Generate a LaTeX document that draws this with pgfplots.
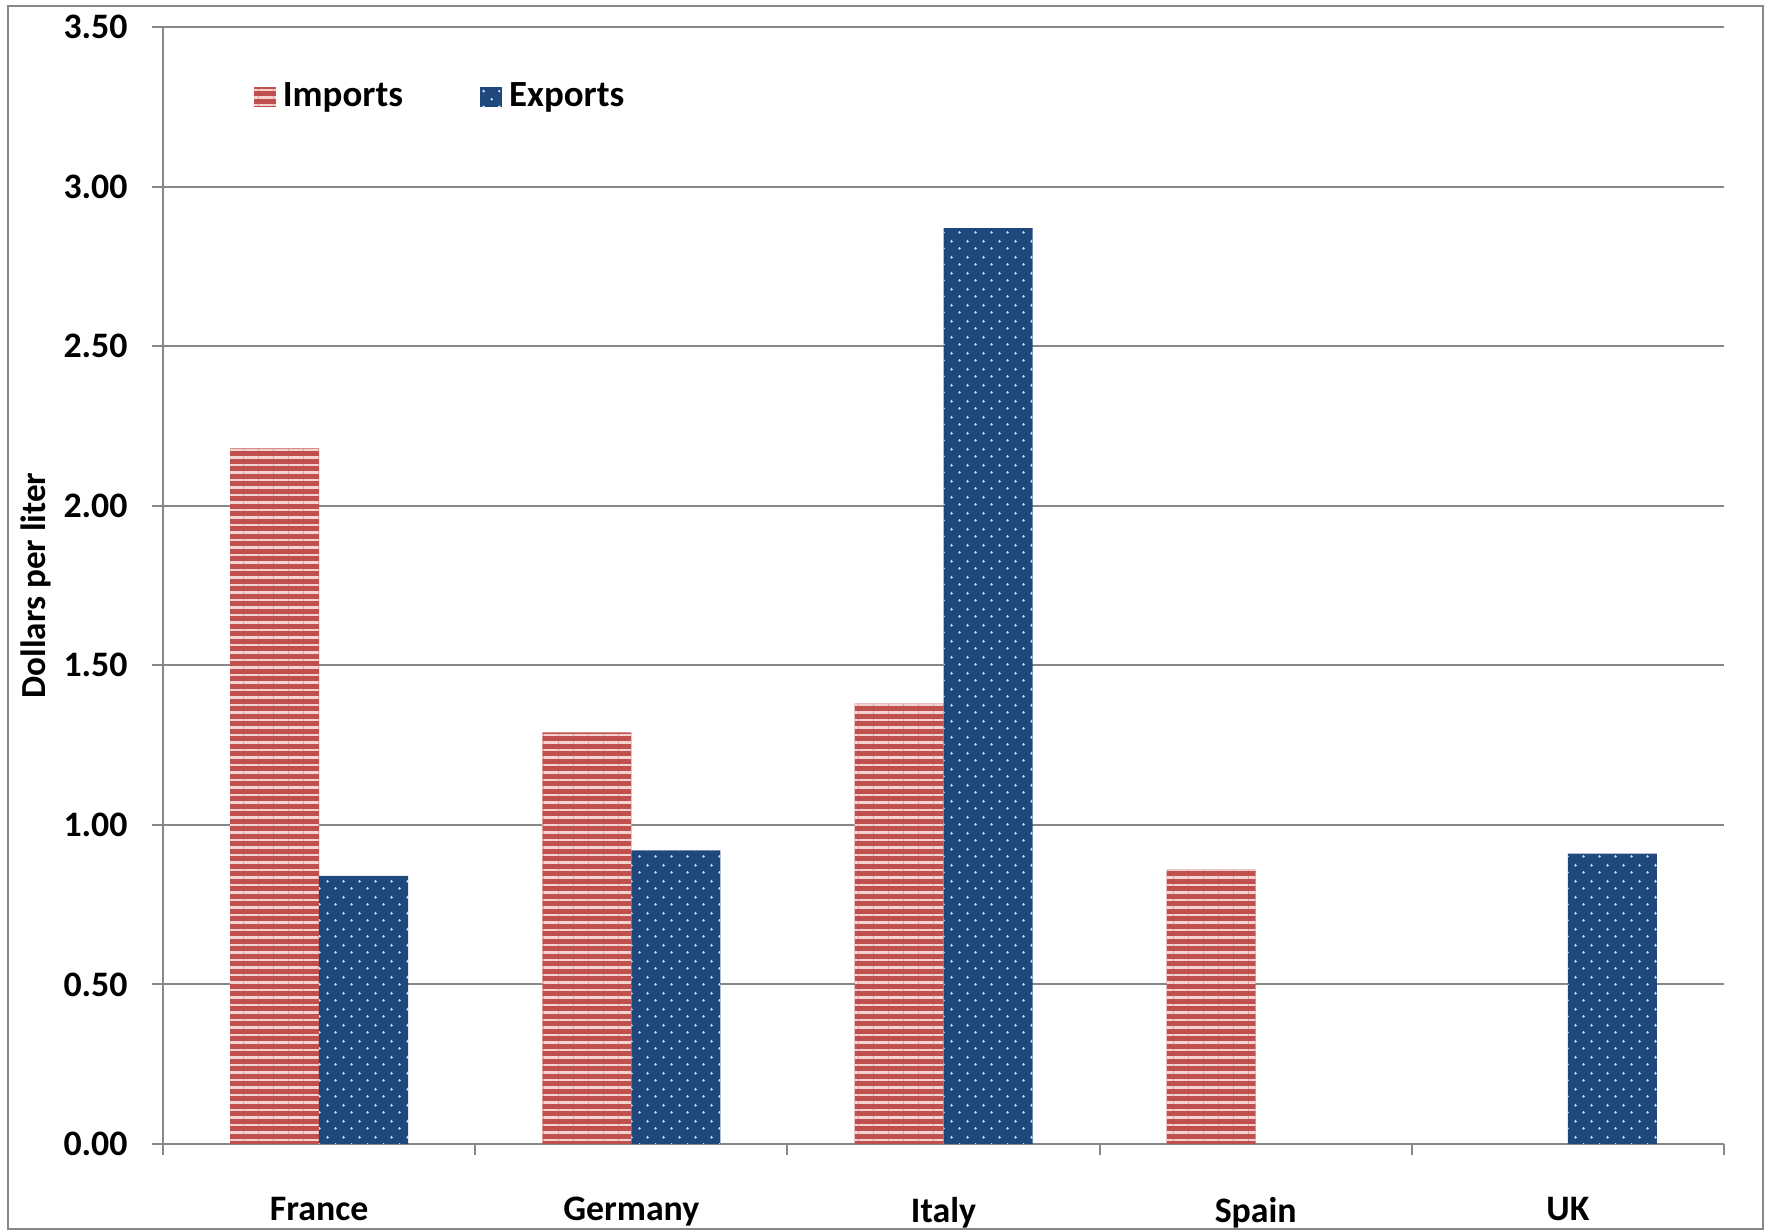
\documentclass[border=0pt]{standalone}
\usepackage{pgfplots}
\pgfplotsset{compat=1.18}
\usepackage{fontspec}
\setmainfont{Carlito}
\usetikzlibrary{patterns.meta}
\definecolor{impred}{HTML}{C0504D}
\definecolor{impstripe}{RGB}{244,210,208}
\definecolor{expblue}{HTML}{1F497D}
\definecolor{expdot}{RGB}{225,233,244}
\definecolor{gridgray}{HTML}{878787}

\begin{document}
\begin{tikzpicture}
\useasboundingbox (0,0) rectangle (17.67,12.30);
\draw[gridgray, line width=0.6pt] (0.08,0.01) rectangle (17.63,12.24);
\begin{axis}[
  at={(1.63cm,0.86cm)}, anchor=south west,
  scale only axis, width=15.61cm, height=11.17cm,
  ybar=0pt, bar width=0.89cm,
  xmin=-0.5, xmax=4.5, ymin=0, ymax=3.5,
  xtick={0,1,2,3,4},
  xticklabels={France,Germany,Italy,Spain,UK},
  minor xtick={-0.5,0.5,1.5,2.5,3.5,4.5},
  ytick={0,0.5,...,3.5},
  yticklabel style={/pgf/number format/fixed, /pgf/number format/fixed zerofill, /pgf/number format/precision=2, xshift=-0.12cm},
  /pgf/number format/assume math mode=true,
  tick align=outside,
  major tick length=0.11cm, minor tick length=0.11cm,
  x tick style={draw=none},
  minor x tick style={draw=gridgray, line width=0.6pt},
  y tick style={draw=gridgray, line width=0.6pt},
  axis x line*=bottom, axis y line*=left,
  axis line style={draw=gridgray, line width=0.6pt, -},
  ymajorgrids, grid style={draw=gridgray, line width=0.6pt},
  tick label style={font=\bfseries\fontsize{10.2}{12}\selectfont, text=black},
  xticklabel style={yshift=-0.30cm},
  ylabel={Dollars per liter},
  ylabel shift=-0.12cm,
  ylabel style={font=\bfseries\fontsize{10}{12}\selectfont},
  legend style={at={(0.051,0.937)}, anchor=west, draw=none, fill=none,
    legend columns=2, font=\bfseries\fontsize{10.5}{12}\selectfont,
    /tikz/every even column/.append style={column sep=0.7cm}},
  legend image code/.code={\draw[#1, draw=none] (0cm,-0.1cm) rectangle (0.22cm,0.1cm);},
]
\addplot[fill=impred, draw=none,
  postaction={pattern={Lines[angle=0,distance=0.075cm,line width=0.024cm]}, pattern color=impstripe}]
  coordinates {(0,2.18) (1,1.29) (2,1.38) (3,0.86)};
\addplot[fill=expblue, draw=none,
  postaction={pattern={Dots[distance=0.156cm,radius=0.013cm]}, pattern color=expdot},
  postaction={pattern={Dots[distance=0.156cm,radius=0.013cm,xshift=0.078cm,yshift=0.078cm]}, pattern color=expdot}]
  coordinates {(0,0.84) (1,0.92) (2,2.87) (4,0.91)};
\legend{Imports,Exports}
\end{axis}
\end{tikzpicture}
\end{document}
